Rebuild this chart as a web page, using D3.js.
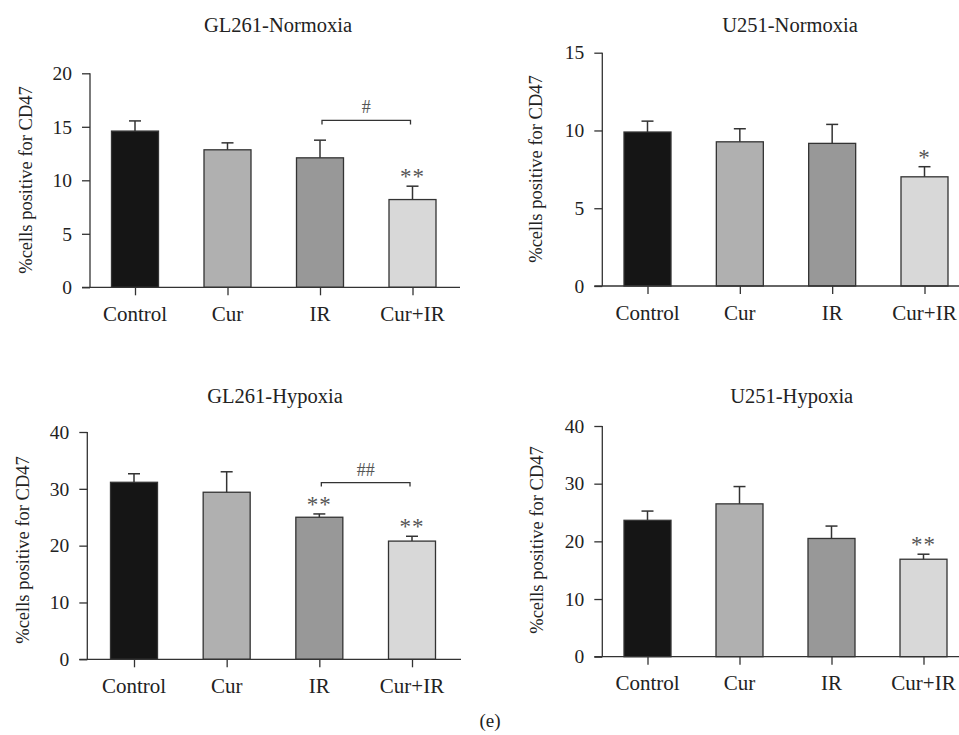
<!DOCTYPE html>
<html>
<head>
<meta charset="utf-8">
<script src="https://cdn.jsdelivr.net/npm/d3@7/dist/d3.min.js"></script>
<style>
  html, body { margin: 0; padding: 0; background: #fff; }
  svg { display: block; }
  text { font-family: "Liberation Serif", "Times New Roman", serif; fill: #222; }
</style>
</head>
<body>
<svg id="chart" width="959" height="735"></svg>
<script>
// ---------- data ----------
const categories = ["Control", "Cur", "IR", "Cur+IR"];
const titles = ["GL261-Normoxia", "U251-Normoxia", "GL261-Hypoxia", "U251-Hypoxia"];

const gl261NormoxiaMean = [14.6, 12.85, 12.1, 8.2];
const gl261NormoxiaErr  = [0.95, 0.65, 1.65, 1.25];
const u251NormoxiaMean  = [9.9, 9.27, 9.17, 7.02];
const u251NormoxiaErr   = [0.7, 0.84, 1.22, 0.65];
const gl261HypoxiaMean  = [31.15, 29.4, 25.0, 20.8];
const gl261HypoxiaErr   = [1.5, 3.6, 0.58, 0.85];
const u251HypoxiaMean   = [23.65, 26.5, 20.5, 16.9];
const u251HypoxiaErr    = [1.6, 3.0, 2.15, 0.87];

const ticksGL261Norm = [0, 5, 10, 15, 20];
const ticksU251Norm  = [0, 5, 10, 15];
const ticksGL261Hyp  = [0, 10, 20, 30, 40];
const ticksU251Hyp   = [0, 10, 20, 30, 40];

// significance marks: [category, symbol]
const starsGL261Norm = [["Cur+IR", "**"]];
const starsU251Norm  = [["Cur+IR", "*"]];
const starsGL261Hyp  = [["IR", "**"], ["Cur+IR", "**"]];
const starsU251Hyp   = [["Cur+IR", "**"]];
// brackets: [from, to, level (data units), symbol]
const bracketGL261Norm = [["IR", "Cur+IR", 15.6, "#"]];
const bracketGL261Hyp  = [["IR", "Cur+IR", 31.1, "##"]];

const fills = ["#151515", "#b0b0b0", "#989898", "#d8d8d8"];

// ---------- layout ----------
const panels = [
  { title: titles[0], mean: gl261NormoxiaMean, err: gl261NormoxiaErr, ticks: ticksGL261Norm,
    stars: starsGL261Norm, brackets: bracketGL261Norm,
    axisX: 90, y0: 287.3, yTop: 73.3, c0: 135, c3: 412.5, xEnd: 460,
    titleX: 278, titleY: 32, labX: 31.5, labY: 180, catY: 321 },
  { title: titles[1], mean: u251NormoxiaMean, err: u251NormoxiaErr, ticks: ticksU251Norm,
    stars: starsU251Norm, brackets: [],
    axisX: 602.3, y0: 286, yTop: 52.7, c0: 647.5, c3: 924.5, xEnd: 959,
    titleX: 790, titleY: 31.5, labX: 542, labY: 169, catY: 320 },
  { title: titles[2], mean: gl261HypoxiaMean, err: gl261HypoxiaErr, ticks: ticksGL261Hyp,
    stars: starsGL261Hyp, brackets: bracketGL261Hyp,
    axisX: 87.3, y0: 659.3, yTop: 432, c0: 134, c3: 412, xEnd: 461,
    titleX: 275, titleY: 403.3, labX: 29, labY: 550, catY: 693.3 },
  { title: titles[3], mean: u251HypoxiaMean, err: u251HypoxiaErr, ticks: ticksU251Hyp,
    stars: starsU251Hyp, brackets: [],
    axisX: 602.3, y0: 656.7, yTop: 426, c0: 647.5, c3: 923.5, xEnd: 959,
    titleX: 791.7, titleY: 403.3, labX: 543, labY: 540, catY: 690 }
];

const svg = d3.select("#chart");
const ink = "#333";
const barW = 47;
const tickLen = 8;

panels.forEach(p => {
  const g = svg.append("g");
  const yMax = p.ticks[p.ticks.length - 1];
  const y = d3.scaleLinear().domain([0, yMax]).range([p.y0, p.yTop]);
  const x = d3.scalePoint().domain(categories).range([p.c0, p.c3]);

  // title
  g.append("text").attr("x", p.titleX).attr("y", p.titleY)
    .attr("text-anchor", "middle").style("font-size", "20.5px").text(p.title);

  // y label
  g.append("text")
    .attr("transform", `translate(${p.labX},${p.labY}) rotate(-90)`)
    .attr("text-anchor", "middle").style("font-size", "18.5px")
    .text("%cells positive for CD47");

  // bars
  g.selectAll("rect.bar").data(categories).enter().append("rect")
    .attr("class", "bar")
    .attr("x", d => x(d) - barW / 2)
    .attr("width", barW)
    .attr("y", (d, i) => y(p.mean[i]))
    .attr("height", (d, i) => p.y0 - y(p.mean[i]))
    .attr("fill", (d, i) => fills[i])
    .attr("stroke", ink).attr("stroke-width", 1.3);

  // error bars
  categories.forEach((c, i) => {
    const top = y(p.mean[i] + p.err[i]);
    g.append("line").attr("x1", x(c)).attr("x2", x(c))
      .attr("y1", y(p.mean[i])).attr("y2", top)
      .attr("stroke", ink).attr("stroke-width", 1.5);
    g.append("line").attr("x1", x(c) - 6).attr("x2", x(c) + 6)
      .attr("y1", top).attr("y2", top)
      .attr("stroke", ink).attr("stroke-width", 1.5);
  });

  // y axis
  const yAxis = d3.axisLeft(y).tickValues(p.ticks).tickSize(tickLen).tickPadding(10)
    .tickFormat(d3.format("d"));
  const ya = g.append("g").attr("transform", `translate(${p.axisX},0)`).call(yAxis);
  ya.select(".domain").attr("stroke", ink).attr("stroke-width", 1.3)
    .attr("d", `M0,${p.y0}V${p.yTop}`);
  ya.selectAll(".tick line").attr("stroke", ink).attr("stroke-width", 1.3);
  ya.selectAll(".tick text").style("font-size", "19.5px")
    .style("font-family", "'Liberation Serif', serif").attr("fill", "#222");

  // x axis
  const xAxis = d3.axisBottom(x).tickSize(tickLen).tickPadding(0).tickFormat("");
  const xa = g.append("g").attr("transform", `translate(0,${p.y0})`).call(xAxis);
  xa.select(".domain").attr("stroke", ink).attr("stroke-width", 1.3)
    .attr("d", `M${p.axisX - tickLen},0H${p.xEnd}`);
  xa.selectAll(".tick line").attr("stroke", ink).attr("stroke-width", 1.3);

  // category labels
  g.selectAll("text.cat").data(categories).enter().append("text")
    .attr("class", "cat")
    .attr("x", d => x(d)).attr("y", p.catY)
    .attr("text-anchor", "middle").style("font-size", "21px").text(d => d);

  // stars
  p.stars.forEach(([c, s]) => {
    const i = categories.indexOf(c);
    const top = y(p.mean[i] + p.err[i]);
    g.append("text").attr("x", x(c)).attr("y", top - 2)
      .attr("text-anchor", "middle").style("font-size", "23px")
      .style("letter-spacing", "1px")
      .style("fill", "#555").text(s);
  });

  // brackets
  p.brackets.forEach(([a, b, lvl, s]) => {
    const by = y(lvl);
    const xa1 = x(a) + 2, xb1 = x(b) - 2;
    g.append("path")
      .attr("d", `M${xa1},${by + 4}V${by}H${xb1}V${by + 4}`)
      .attr("fill", "none").attr("stroke", ink).attr("stroke-width", 1.3);
    g.append("text").attr("x", (xa1 + xb1) / 2).attr("y", by - 7)
      .attr("text-anchor", "middle").style("font-size", "18px")
      .style("fill", "#555").text(s);
  });
});

// panel label
svg.append("text").attr("x", 490).attr("y", 727).attr("text-anchor", "middle")
  .style("font-size", "19px").text("(e)");
</script>
</body>
</html>
